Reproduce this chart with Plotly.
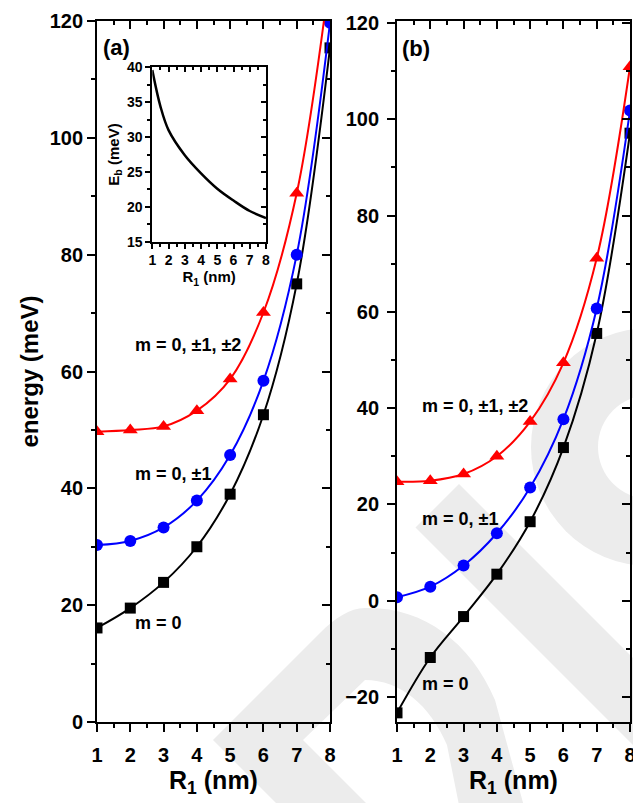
import plotly.graph_objects as go

# ---------------- data ----------------
R1 = [1, 2, 3, 4, 5, 6, 7, 8]

# panel (a)
a_m0 = [16.1, 19.5, 23.9, 30.0, 39.0, 52.6, 75.0, 115.4]
a_m01 = [30.3, 31.0, 33.3, 37.9, 45.7, 58.4, 80.0, 119.7]
a_m012 = [49.7, 50.0, 50.6, 53.3, 58.7, 70.1, 90.5, 128.0]

# panel (b)
b_m0 = [-23.3, -11.8, -3.3, 5.5, 16.4, 31.8, 55.5, 97.1]
b_m01 = [0.7, 2.9, 7.3, 14.0, 23.5, 37.7, 60.7, 101.8]
b_m012 = [24.7, 24.9, 26.3, 30.0, 37.2, 49.4, 71.1, 110.9]

# inset: binding energy
inset_R = [1, 1.5, 2, 3, 4, 5, 6, 7, 8]
inset_Eb = [39.6, 34.4, 31.0, 27.4, 24.8, 22.6, 20.9, 19.4, 18.4]

labels = ["m = 0, \u00b11, \u00b12", "m = 0, \u00b11", "m = 0"]

# ---------------- layout helpers ----------------
W, H = 633, 803
FONT = "Arial, Liberation Sans, sans-serif"


def px(x):
    return x / W


def py(y):
    return 1 - y / H


fig = go.Figure()


def series(x, y, xa, ya, color, symbol, size):
    fig.add_trace(go.Scatter(
        x=x, y=y, xaxis=xa, yaxis=ya, mode="lines+markers",
        line=dict(color=color, width=2, shape="spline", smoothing=1),
        marker=dict(symbol=symbol, size=size, color=color, line=dict(width=0)),
        showlegend=False, cliponaxis=True, hoverinfo="skip"))


for (ys, xa, ya) in [((a_m0, a_m01, a_m012), "x", "y"), ((b_m0, b_m01, b_m012), "x2", "y2")]:
    series(R1, ys[0], xa, ya, "black", "square", 11)
    series(R1, ys[1], xa, ya, "#0000ff", "circle", 12)
    series(R1, ys[2], xa, ya, "#ff0000", "triangle-up", 13)

fig.add_trace(go.Scatter(x=inset_R, y=inset_Eb, xaxis="x5", yaxis="y5", mode="lines",
                         line=dict(color="black", width=2.5, shape="spline", smoothing=1),
                         showlegend=False, hoverinfo="skip"))

# dummy traces for mirrored (inside-tick) axes
for xa, ya in [("x3", "y3"), ("x4", "y4"), ("x6", "y6")]:
    fig.add_trace(go.Scatter(x=[None], y=[None], xaxis=xa, yaxis=ya, mode="markers",
                             showlegend=False, hoverinfo="skip"))

tickfont = dict(family=FONT, size=20, color="black", weight="bold")
titlefont = dict(family=FONT, size=25, color="black", weight="bold")
small_tickfont = dict(family=FONT, size=14, color="black", weight="bold")
small_titlefont = dict(family=FONT, size=15, color="black", weight="bold")

xdomA = [px(97), px(330)]
xdomB = [px(397), px(630)]
ydom = [py(722), py(21)]
rangeA = [0, 120]
rangeB = [-25.2, 120.4]


def main_axis(rng, dtick, mdtick, dom, anchor, title=None, tfont=tickfont, tlen=8, mlen=4, tick0=None,
              standoff=None):
    d = dict(range=rng, dtick=dtick, ticks="outside", ticklen=tlen, tickwidth=1.5, tickcolor="black",
             showline=True, linecolor="black", linewidth=1.8, mirror=True, showgrid=False,
             zeroline=False, tickfont=tfont, domain=dom, anchor=anchor, automargin=False,
             ticklabeloverflow="allow",
             minor=dict(ticks="outside", ticklen=mlen, tickwidth=1.5, dtick=mdtick, tickcolor="black", showgrid=False))
    if tick0 is not None:
        d["tick0"] = tick0
        d["minor"]["tick0"] = tick0
    if title is not None:
        d["title"] = title
    if standoff is not None:
        d["ticklabelstandoff"] = standoff
    return d


def mirror_axis(rng, dtick, mdtick, over, anchor, side, tlen=8, mlen=4, tick0=None):
    d = dict(range=rng, dtick=dtick, ticks="inside", ticklen=tlen, tickwidth=1.5, tickcolor="black",
             showticklabels=False, showline=False, showgrid=False, zeroline=False,
             overlaying=over, anchor=anchor, side=side, automargin=False,
             minor=dict(ticks="inside", ticklen=mlen, tickwidth=1.5, dtick=mdtick, tickcolor="black", showgrid=False))
    if tick0 is not None:
        d["tick0"] = tick0
        d["minor"]["tick0"] = tick0
    return d


xtitle = dict(text="R<sub>1</sub> (nm)", font=titlefont, standoff=5)

layout = dict(
    width=W, height=H, autosize=False,
    margin=dict(l=0, r=0, t=0, b=0, pad=0),
    paper_bgcolor="white", plot_bgcolor="rgba(0,0,0,0)",
    showlegend=False,
    xaxis=main_axis([1, 8], 1, 0.5, xdomA, "y", xtitle, tick0=1, standoff=6),
    yaxis=main_axis(rangeA, 20, 10, ydom, "x",
                    dict(text="energy (meV)", font=dict(family=FONT, size=24, color="black", weight="bold"), standoff=4),
                    tick0=0),
    xaxis2=main_axis([1, 8], 1, 0.5, xdomB, "y2", xtitle, tick0=1, standoff=6),
    yaxis2=main_axis(rangeB, 20, 10, ydom, "x2", tick0=0, standoff=4),
    xaxis3=mirror_axis([1, 8], 1, 0.5, "x", "y", "top", tick0=1),
    yaxis3=mirror_axis(rangeA, 20, 10, "y", "x", "right", tick0=0),
    xaxis4=mirror_axis([1, 8], 1, 0.5, "x2", "y2", "top", tick0=1),
    yaxis4=mirror_axis(rangeB, 20, 10, "y2", "x2", "right", tick0=0),
    xaxis5=main_axis([1, 8], 1, 0.5, [px(152.3), px(266)], "y5",
                     dict(text="R<sub>1</sub> (nm)", font=small_titlefont, standoff=3),
                     tfont=small_tickfont, tlen=5, mlen=3, tick0=1),
    yaxis5=main_axis([15, 40], 5, 2.5, [py(241.7), py(67.3)], "x5",
                     dict(text="E<sub>b</sub> (meV)", font=small_titlefont, standoff=4),
                     tfont=small_tickfont, tlen=5, mlen=3, tick0=15),
    xaxis6=mirror_axis([1, 8], 1, 0.5, "x5", "y5", "top", tlen=5, mlen=3, tick0=1),
    yaxis6=mirror_axis([15, 40], 5, 2.5, "y5", "x5", "right", tlen=5, mlen=3, tick0=15),
)
fig.update_layout(**layout)

# ---------------- annotations ----------------
lab_font = dict(family=FONT, size=18, color="black", weight="bold")
ann = []
ann.append(dict(text="(a)", x=px(101), y=py(47), xref="paper", yref="paper", xanchor="left", yanchor="middle",
                showarrow=False, font=dict(family=FONT, size=22, color="black", weight="bold")))
ann.append(dict(text="(b)", x=px(400), y=py(48), xref="paper", yref="paper", xanchor="left", yanchor="middle",
                showarrow=False, font=dict(family=FONT, size=22, color="black", weight="bold")))
for txt, yv in zip(labels, [64.5, 42.5, 17.0]):
    ann.append(dict(text=txt, x=2.08, y=yv, xref="x", yref="y", xanchor="left", yanchor="middle",
                    showarrow=False, font=lab_font))
for txt, yv in zip(labels, [40.4, 17.0, -17.3]):
    ann.append(dict(text=txt, x=1.69, y=yv, xref="x2", yref="y2", xanchor="left", yanchor="middle",
                    showarrow=False, font=lab_font))
fig.update_layout(annotations=ann)

# ---------------- faint background watermark ----------------
WM = "#ececec"


def path(cmds):
    out = []
    for c in cmds:
        if isinstance(c, str):
            out.append(c)
        else:
            out.append("%.5f,%.5f" % (px(c[0]), py(c[1])))
    return " ".join(out)


shapes = []
# diagonal band (panel b)
shapes.append(dict(type="path", xref="paper", yref="paper", layer="below", line=dict(width=0), fillcolor=WM,
                   path=path(["M", (459, 484), "L", (645, 670), "L", (645, 757), "L", (415.5, 527.5), "Z"])))
# ring (panel b right)
cx, cy, ro, ri = 650, 447, 119, 52
shapes.append(dict(type="circle", xref="paper", yref="paper", layer="below", line=dict(width=0), fillcolor=WM,
                   x0=px(cx - ro), x1=px(cx + ro), y0=py(cy + ro), y1=py(cy - ro)))
shapes.append(dict(type="circle", xref="paper", yref="paper", layer="below", line=dict(width=0), fillcolor="white",
                   x0=px(cx - ri), x1=px(cx + ri), y0=py(cy + ri), y1=py(cy - ri)))
# arch + chevron (bottom)
shapes.append(dict(type="path", xref="paper", yref="paper", layer="below", line=dict(width=0), fillcolor=WM,
                   path=path(["M", (279, 806), "L", (213, 740), "L", (320, 633),
                              "C", (335, 618), (350, 608), (365, 608),
                              "C", (420, 606), (470, 640), (495, 700),
                              "L", (525, 810), "L", (460, 810), "L", (447, 745),
                              "C", (430, 705), (400, 680), (365, 680),
                              "L", (303, 740), "L", (369, 806), "Z"])))
fig.update_layout(shapes=shapes)

fig.write_html("out.html", config={"displayModeBar": False},
               post_script="document.body.style.margin='0';document.body.style.padding='0';"
                           "document.body.style.overflow='hidden';")
